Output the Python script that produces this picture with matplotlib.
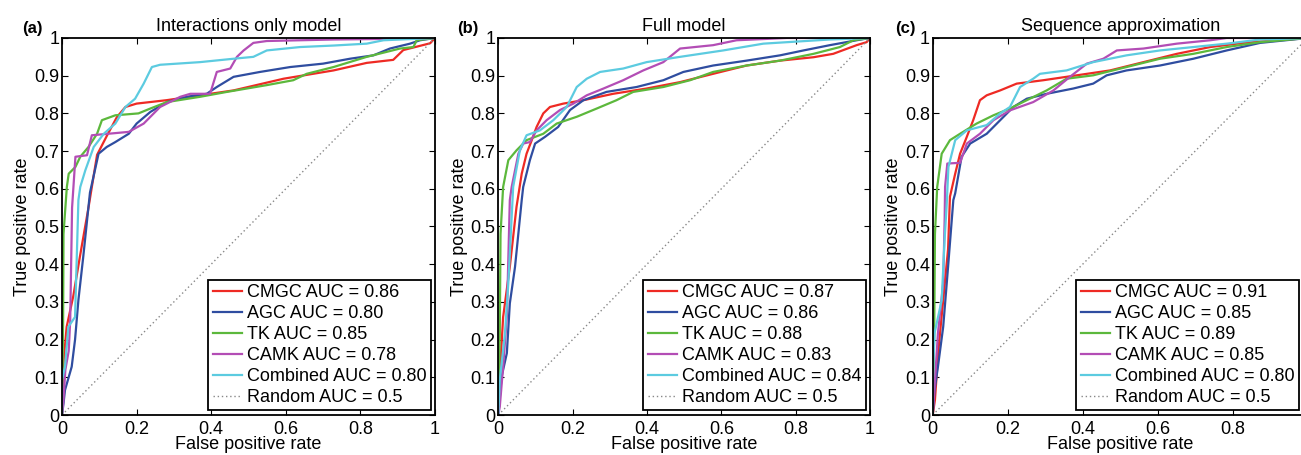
import matplotlib
matplotlib.use("Agg")
import matplotlib.pyplot as plt
from matplotlib.ticker import FuncFormatter

plt.rcParams['font.family'] = ['Liberation Sans', 'DejaVu Sans']

titles = ["Interactions only model", "Full model", "Sequence approximation"]
panel_letters = ["(a)", "(b)", "(c)"]
series_names = ["CMGC", "AGC", "TK", "CAMK", "Combined"]
colors = ['#ee2a24', '#2f4da0', '#5cb83c', '#b34db5', '#5ccbe0']

auc_a = ["0.86", "0.80", "0.85", "0.78", "0.80"]
auc_b = ["0.87", "0.86", "0.88", "0.83", "0.84"]
auc_c = ["0.91", "0.85", "0.89", "0.85", "0.80"]

# ---- Panel (a): Interactions only model ----
a_cmgc_fpr = [0, 0.005, 0.0125, 0.030, 0.048, 0.071, 0.094, 0.12, 0.147, 0.17, 0.2, 0.28, 0.37, 0.46, 0.594, 0.728, 0.817, 0.888, 0.915, 0.987, 1]
a_cmgc_tpr = [0, 0.15, 0.234, 0.314, 0.42, 0.55, 0.69, 0.74, 0.79, 0.817, 0.826, 0.835, 0.848, 0.861, 0.892, 0.914, 0.934, 0.942, 0.968, 0.986, 1]
a_agc_fpr = [0, 0.004, 0.008, 0.026, 0.035, 0.044, 0.057, 0.075, 0.098, 0.12, 0.143, 0.179, 0.2, 0.237, 0.281, 0.335, 0.388, 0.415, 0.46, 0.531, 0.612, 0.7, 0.772, 0.835, 0.879, 0.933, 0.96, 1]
a_agc_tpr = [0, 0.03, 0.066, 0.128, 0.2, 0.305, 0.42, 0.59, 0.693, 0.711, 0.724, 0.746, 0.773, 0.804, 0.83, 0.844, 0.852, 0.87, 0.897, 0.91, 0.923, 0.932, 0.945, 0.954, 0.972, 0.985, 0.994, 1]
a_tk_fpr = [0, 0.003, 0.004, 0.013, 0.018, 0.036, 0.049, 0.071, 0.094, 0.107, 0.143, 0.205, 0.237, 0.281, 0.37, 0.442, 0.549, 0.62, 0.656, 0.728, 0.817, 0.906, 0.942, 0.951, 1]
a_tk_tpr = [0, 0.25, 0.48, 0.605, 0.64, 0.658, 0.685, 0.711, 0.746, 0.782, 0.795, 0.8, 0.813, 0.83, 0.844, 0.857, 0.875, 0.888, 0.905, 0.923, 0.95, 0.972, 0.976, 0.994, 1]
a_camk_fpr = [0, 0.004, 0.009, 0.018, 0.022, 0.027, 0.036, 0.067, 0.08, 0.179, 0.219, 0.263, 0.317, 0.344, 0.397, 0.415, 0.451, 0.469, 0.487, 0.513, 0.549, 0.728, 0.906, 1]
a_camk_tpr = [0, 0.04, 0.12, 0.17, 0.25, 0.55, 0.685, 0.689, 0.742, 0.751, 0.773, 0.817, 0.844, 0.852, 0.852, 0.91, 0.919, 0.95, 0.967, 0.987, 0.992, 0.996, 0.998, 1]
a_comb_fpr = [0, 0.0, 0.008, 0.017, 0.035, 0.044, 0.049, 0.0625, 0.085, 0.112, 0.143, 0.17, 0.196, 0.219, 0.241, 0.263, 0.37, 0.46, 0.513, 0.549, 0.638, 0.728, 0.817, 0.862, 1]
a_comb_tpr = [0, 0.093, 0.128, 0.234, 0.26, 0.57, 0.605, 0.649, 0.711, 0.746, 0.773, 0.817, 0.839, 0.879, 0.923, 0.929, 0.936, 0.945, 0.95, 0.967, 0.976, 0.98, 0.985, 0.994, 1]

# ---- Panel (b): Full model ----
b_cmgc_fpr = [0, 0.006, 0.013, 0.031, 0.045, 0.049, 0.063, 0.076, 0.09, 0.103, 0.121, 0.139, 0.175, 0.229, 0.309, 0.399, 0.489, 0.578, 0.668, 0.758, 0.848, 0.901, 0.964, 0.991, 1]
b_cmgc_tpr = [0, 0.14, 0.26, 0.393, 0.517, 0.552, 0.64, 0.693, 0.729, 0.764, 0.8, 0.817, 0.826, 0.835, 0.852, 0.866, 0.883, 0.905, 0.927, 0.94, 0.949, 0.958, 0.981, 0.989, 1]
b_agc_fpr = [0, 0.009, 0.023, 0.031, 0.045, 0.063, 0.067, 0.085, 0.099, 0.126, 0.161, 0.193, 0.229, 0.291, 0.372, 0.444, 0.498, 0.578, 0.668, 0.758, 0.821, 0.892, 0.964, 1]
b_agc_tpr = [0, 0.102, 0.164, 0.296, 0.393, 0.57, 0.605, 0.676, 0.72, 0.738, 0.764, 0.809, 0.835, 0.857, 0.87, 0.888, 0.91, 0.927, 0.94, 0.954, 0.967, 0.981, 0.994, 1]
b_tk_fpr = [0, 0.004, 0.006, 0.013, 0.027, 0.049, 0.076, 0.121, 0.157, 0.211, 0.265, 0.318, 0.363, 0.444, 0.516, 0.578, 0.668, 0.758, 0.848, 0.919, 0.955, 1]
b_tk_tpr = [0, 0.216, 0.48, 0.605, 0.676, 0.702, 0.729, 0.746, 0.773, 0.791, 0.813, 0.835, 0.857, 0.87, 0.888, 0.91, 0.927, 0.94, 0.958, 0.976, 0.994, 1]
b_camk_fpr = [0, 0.004, 0.013, 0.023, 0.031, 0.036, 0.054, 0.067, 0.085, 0.103, 0.13, 0.166, 0.202, 0.238, 0.283, 0.336, 0.39, 0.444, 0.489, 0.578, 0.641, 0.776, 1]
b_camk_tpr = [0, 0.022, 0.128, 0.26, 0.57, 0.605, 0.693, 0.72, 0.724, 0.755, 0.782, 0.809, 0.826, 0.848, 0.866, 0.888, 0.914, 0.936, 0.972, 0.981, 0.994, 1.0, 1]
b_comb_fpr = [0, 0.004, 0.018, 0.027, 0.04, 0.058, 0.076, 0.112, 0.148, 0.184, 0.211, 0.238, 0.274, 0.336, 0.399, 0.489, 0.605, 0.713, 0.892, 1]
b_comb_tpr = [0, 0.093, 0.217, 0.35, 0.605, 0.702, 0.742, 0.755, 0.782, 0.817, 0.87, 0.892, 0.91, 0.919, 0.936, 0.95, 0.967, 0.985, 0.996, 1]

# ---- Panel (c): Sequence approximation ----
c_cmgc_fpr = [0, 0.006, 0.015, 0.028, 0.041, 0.046, 0.06, 0.073, 0.091, 0.108, 0.126, 0.144, 0.18, 0.224, 0.295, 0.384, 0.473, 0.562, 0.651, 0.74, 0.828, 0.917, 1]
c_cmgc_tpr = [0, 0.04, 0.17, 0.305, 0.44, 0.579, 0.64, 0.693, 0.738, 0.782, 0.835, 0.848, 0.861, 0.879, 0.888, 0.901, 0.914, 0.936, 0.958, 0.976, 0.987, 0.994, 1]
c_agc_fpr = [0, 0.005, 0.014, 0.028, 0.041, 0.055, 0.06, 0.077, 0.1, 0.144, 0.18, 0.215, 0.251, 0.304, 0.375, 0.428, 0.464, 0.517, 0.606, 0.695, 0.784, 0.873, 1]
c_agc_tpr = [0, 0.066, 0.128, 0.234, 0.393, 0.57, 0.588, 0.685, 0.72, 0.746, 0.782, 0.817, 0.839, 0.852, 0.866, 0.879, 0.901, 0.914, 0.927, 0.945, 0.967, 0.987, 1]
c_tk_fpr = [0, 0.004, 0.006, 0.012, 0.024, 0.046, 0.073, 0.117, 0.162, 0.206, 0.251, 0.304, 0.357, 0.428, 0.517, 0.606, 0.695, 0.784, 0.873, 1]
c_tk_tpr = [0, 0.216, 0.48, 0.605, 0.693, 0.729, 0.746, 0.773, 0.795, 0.813, 0.835, 0.861, 0.892, 0.901, 0.923, 0.945, 0.958, 0.976, 0.989, 1]
c_camk_fpr = [0, 0.005, 0.014, 0.028, 0.032, 0.033, 0.039, 0.073, 0.091, 0.126, 0.162, 0.206, 0.268, 0.322, 0.366, 0.411, 0.455, 0.491, 0.562, 0.651, 0.74, 0.784, 1]
c_camk_tpr = [0, 0.075, 0.217, 0.35, 0.526, 0.605, 0.667, 0.669, 0.72, 0.746, 0.782, 0.808, 0.83, 0.861, 0.897, 0.932, 0.945, 0.967, 0.972, 0.985, 0.994, 1.0, 1]
c_comb_fpr = [0, 0.001, 0.005, 0.024, 0.032, 0.037, 0.042, 0.06, 0.091, 0.144, 0.18, 0.206, 0.233, 0.268, 0.286, 0.357, 0.428, 0.517, 0.606, 0.695, 0.784, 0.873, 1]
c_comb_tpr = [0, 0.11, 0.217, 0.305, 0.47, 0.552, 0.658, 0.729, 0.755, 0.769, 0.8, 0.817, 0.87, 0.892, 0.905, 0.914, 0.936, 0.954, 0.967, 0.976, 0.985, 0.996, 1]

panels = [
    ([(a_cmgc_fpr, a_cmgc_tpr), (a_agc_fpr, a_agc_tpr), (a_tk_fpr, a_tk_tpr), (a_camk_fpr, a_camk_tpr), (a_comb_fpr, a_comb_tpr)], auc_a),
    ([(b_cmgc_fpr, b_cmgc_tpr), (b_agc_fpr, b_agc_tpr), (b_tk_fpr, b_tk_tpr), (b_camk_fpr, b_camk_tpr), (b_comb_fpr, b_comb_tpr)], auc_b),
    ([(c_cmgc_fpr, c_cmgc_tpr), (c_agc_fpr, c_agc_tpr), (c_tk_fpr, c_tk_tpr), (c_camk_fpr, c_camk_tpr), (c_comb_fpr, c_comb_tpr)], auc_c),
]

W, H = 1301, 455
fig = plt.figure(figsize=(W / 100, H / 100), dpi=100)

axes_px = [(62, 373), (498.3, 371.7), (932.7, 375)]
letter_px = [(22, 28), (457, 28), (895, 28)]
legend_right = [0.99, 0.99, 0.977]
ax_bottom_px, ax_top_px = 415, 38

fmt = FuncFormatter(lambda v, p: f"{v:g}")
fmt_c = FuncFormatter(lambda v, p: "" if v >= 0.999 else f"{v:g}")

for i, ((curves, aucs), (lx, wx)) in enumerate(zip(panels, axes_px)):
    ax = fig.add_axes([lx / W, (H - ax_bottom_px) / H, wx / W, (ax_bottom_px - ax_top_px) / H])
    for (fpr, tpr), name, auc, col in zip(curves, series_names, aucs, colors):
        ax.plot(fpr, tpr, color=col, lw=1.6, label=f"{name} AUC = {auc}")
    ax.plot([0, 1], [0, 1], color='#888888', lw=1.0, ls=(0, (1, 2)), label="Random AUC = 0.5")
    ax.set_xlim(0, 1)
    ax.set_ylim(0, 1)
    ax.set_xticks([0, 0.2, 0.4, 0.6, 0.8, 1])
    ax.set_yticks([0, 0.1, 0.2, 0.3, 0.4, 0.5, 0.6, 0.7, 0.8, 0.9, 1])
    ax.xaxis.set_major_formatter(fmt_c if i == 2 else fmt)
    ax.yaxis.set_major_formatter(fmt)
    ax.tick_params(direction='in', top=True, right=True, length=4, width=0.8,
                   labelsize=13, colors='black')
    ax.tick_params(axis='y', pad=2)
    ax.tick_params(axis='x', pad=4)
    for s in ax.spines.values():
        s.set_linewidth(1.3)
    ax.set_title(titles[i], fontsize=13, pad=5)
    ax.set_xlabel("False positive rate", fontsize=13, labelpad=-1)
    ax.set_ylabel("True positive rate", fontsize=13, labelpad=2)
    leg = ax.legend(loc='lower right', bbox_to_anchor=(legend_right[i], 0.012), borderaxespad=0,
                    fontsize=13, handlelength=1.6, handletextpad=0.3,
                    labelspacing=0.22, borderpad=0.25, fancybox=False, framealpha=1)
    leg.get_frame().set_edgecolor('black')
    leg.get_frame().set_linewidth(1.3)
    px, py = letter_px[i]
    fig.text(px / W, 1 - py / H, panel_letters[i], fontsize=12, fontweight='bold', va='center', ha='left')

fig.savefig("out.png", dpi=100)
